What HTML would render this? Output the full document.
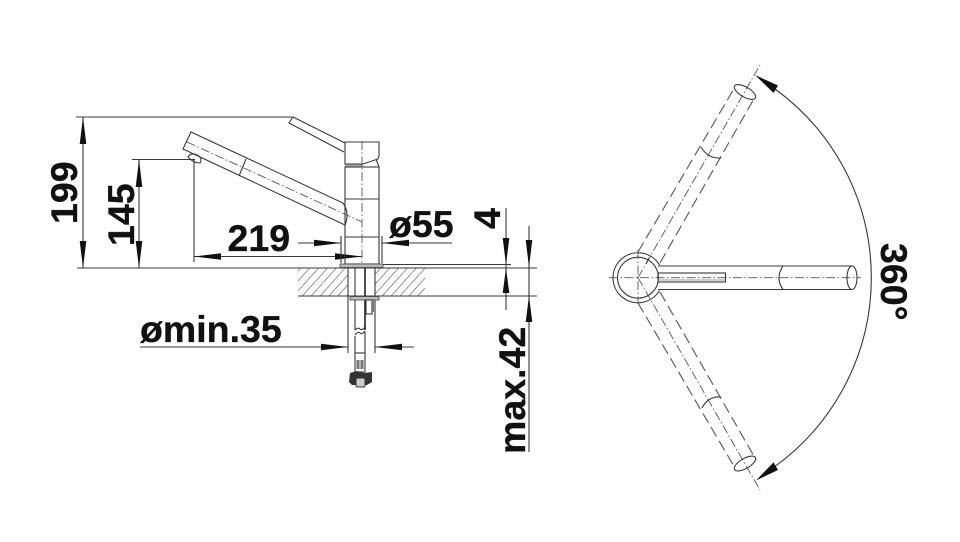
<!DOCTYPE html>
<html>
<head>
<meta charset="utf-8">
<style>
html,body{margin:0;padding:0;background:#fff;}
svg{display:block;}
text{font-family:"Liberation Sans",Arial,sans-serif;font-weight:bold;font-size:37.5px;fill:#111;stroke:#111;stroke-width:.35px;}
.l{stroke:#383838;stroke-width:1.1;fill:none;}
.d{stroke:#333;stroke-width:1.2;fill:none;}
.c{stroke:#555;stroke-width:.9;fill:none;stroke-dasharray:9 2.5 1.5 2.5;}
.h{stroke:#555;stroke-width:1.1;fill:none;stroke-dasharray:11 5;}
.a{fill:#111;stroke:none;}
</style>
</head>
<body>
<svg width="960" height="542" viewBox="0 0 960 542" xmlns="http://www.w3.org/2000/svg">
<defs>
<pattern id="hatch" width="6.6" height="9" patternUnits="userSpaceOnUse" patternTransform="rotate(42)">
<line x1="0" y1="0" x2="0" y2="9" stroke="#444" stroke-width="1.1"/>
</pattern>
</defs>
<rect width="960" height="542" fill="#fff"/>

<!-- Dimension lines, left -->
<line class="l" x1="76" y1="117" x2="292" y2="117"/>
<line class="l" x1="77" y1="268" x2="537" y2="268"/>
<line class="l" x1="298" y1="296" x2="537" y2="296"/>
<line class="l" x1="340" y1="264.5" x2="511" y2="264.5"/>
<line class="l" x1="83" y1="117" x2="83" y2="268"/>
<polygon class="a" points="83,117 86.3,144 79.7,144"/>
<polygon class="a" points="83,268 86.3,241 79.7,241"/>
<line class="l" x1="132" y1="159.5" x2="195" y2="159.5"/>
<line class="l" x1="139" y1="160" x2="139" y2="268"/>
<polygon class="a" points="139,160 142.3,187 135.7,187"/>
<polygon class="a" points="139,268 142.3,241 135.7,241"/>
<line class="l" x1="194" y1="160" x2="194" y2="262"/>
<line class="l" x1="194" y1="256.5" x2="362" y2="256.5"/>
<polygon class="a" points="194,256.5 221,253.2 221,259.8"/>
<polygon class="a" points="362,256.5 335,253.2 335,259.8"/>
<line class="l" x1="298" y1="243" x2="341" y2="243"/>
<polygon class="a" points="341,243 314,239.7 314,246.3"/>
<line class="l" x1="382" y1="243" x2="452" y2="243"/>
<polygon class="a" points="382,243 409,239.7 409,246.3"/>
<line class="l" x1="341" y1="236" x2="341" y2="263"/>
<line class="l" x1="382" y1="236" x2="382" y2="263"/>

<!-- Right dimensions -->
<line class="l" x1="506" y1="208" x2="506" y2="310"/>
<polygon class="a" points="506,265 509.3,238 502.7,238"/>
<polygon class="a" points="506,268 509.3,293 502.7,293"/>
<line class="l" x1="529" y1="226" x2="529" y2="452"/>
<polygon class="a" points="529,267 532.3,240 525.7,240"/>
<polygon class="a" points="529,296 532.3,322 525.7,322"/>

<!-- Counter hatch -->
<rect x="298" y="268" width="50" height="28" fill="url(#hatch)"/>
<rect x="375" y="268" width="50" height="28" fill="url(#hatch)"/>

<!-- Spout -->
<path class="l" d="M183,149 L191,132 L343,203 Q350,213 345,225 Z" fill="#fff"/>
<line class="l" x1="246" y1="159" x2="239" y2="176"/>
<line class="c" x1="187" y1="142" x2="362" y2="222"/>
<path class="l" d="M188,157 Q191,152 197,155 Q203,158 200,163 Q193,163 188,157 Z"/>

<!-- Lever -->
<path class="l" d="M345,143 L293,117 L289,123 L344,152"/>

<!-- Body -->
<path class="l" d="M345,142 H379 V156 L378,159 L363,164 H345 Z"/>
<path class="l" d="M346,164 V167 H379 L376,159"/>
<rect x="345" y="164.5" width="18" height="2" fill="#aaa"/>
<rect class="l" x="345" y="167" width="34" height="97"/>
<line class="l" x1="345" y1="199" x2="379" y2="199"/>
<line class="l" x1="345" y1="237" x2="379" y2="237"/>
<line class="c" x1="362" y1="141" x2="362" y2="264"/>
<rect x="340" y="264" width="43" height="3.5" fill="#bbb" stroke="#444" stroke-width=".8"/>

<!-- Under counter -->
<line class="l" x1="348" y1="268" x2="348" y2="353" stroke-width="1.3"/>
<line class="l" x1="375" y1="268" x2="375" y2="353" stroke-width="1.3"/>
<line class="l" x1="355" y1="268" x2="355" y2="330"/>
<line x1="365" y1="268" x2="365" y2="330" stroke="#222" stroke-width="1.6"/>
<rect x="350" y="296.5" width="29" height="3.5" fill="#bbb" stroke="#444" stroke-width=".8"/>
<rect class="l" x="366" y="300" width="6" height="14"/>
<rect x="372" y="300" width="2" height="12" fill="#777"/>
<path class="l" d="M355,336 V353 M365,332 V353 M355,335 Q358,331 360,333 Q362,335 365,331 M355,330 Q358,327 360,329 Q362,331 365,327"/>
<line class="l" x1="140" y1="347" x2="348" y2="347"/>
<polygon class="a" points="348,347 321,343.7 321,350.3"/>
<line class="l" x1="375" y1="347" x2="414" y2="347"/>
<polygon class="a" points="375,347 402,343.7 402,350.3"/>
<rect class="l" x="355" y="353" width="10" height="19"/>
<rect x="356.5" y="360" width="7" height="9" fill="#777"/>
<line x1="360" y1="360" x2="360" y2="369" stroke="#eee"/>
<path d="M350,373 L357,371 L364,373 L372,372 L372,382 L367,385 L352,385 L349,382 Z" fill="#333"/>
<rect x="356" y="378" width="9" height="9" rx="1.5" fill="#ccc" stroke="#333"/>

<!-- Labels -->
<text x="227.5" y="251">219</text>
<text x="389" y="237">ø55</text>
<text x="140" y="342">ømin.35</text>
<text transform="translate(77,224) rotate(-90)">199</text>
<text transform="translate(134,246) rotate(-90)">145</text>
<text transform="translate(500,229) rotate(-90)">4</text>
<text transform="translate(525,454) rotate(-90)">max.42</text>
<text transform="translate(881,243) rotate(90)">360°</text>

<!-- Plan view hub -->
<circle class="l" cx="638" cy="277.7" r="20.5"/>
<path class="l" d="M659.5,265 A25,25 0 1 0 659.5,290.5"/>
<line class="c" x1="609" y1="277.7" x2="861" y2="277.7"/>
<line class="c" x1="638" y1="250" x2="638" y2="304"/>

<!-- Plan view main arm -->
<path class="l" d="M658,266 H852 M658,289.5 H852"/>
<path class="l" d="M783,266 Q775,278 783,289.5"/>
<ellipse class="l" cx="852" cy="277.7" rx="5" ry="11.8"/>
<rect class="l" x="658" y="273" width="67.5" height="9"/>
<line x1="658" y1="280" x2="725" y2="280" stroke="#999" stroke-width="1"/>

<!-- Upper arm (hidden) -->
<line class="h" x1="638" y1="252" x2="735" y2="87"/>
<line class="h" x1="660" y1="263" x2="755" y2="97"/>
<line class="c" x1="638" y1="277.7" x2="760" y2="65"/>
<line class="l" x1="649" y1="258" x2="646" y2="264"/>
<ellipse class="l" cx="745" cy="92" rx="12" ry="5" transform="rotate(30 745 92)"/>
<path class="l" d="M701,147 Q708,159 721,158"/>

<!-- Lower arm (hidden) -->
<line class="h" x1="638" y1="303" x2="735" y2="468"/>
<line class="h" x1="660" y1="292" x2="755" y2="458"/>
<line class="c" x1="638" y1="277.7" x2="760" y2="490"/>
<ellipse class="l" cx="745" cy="463.5" rx="12" ry="5" transform="rotate(-30 745 463.5)"/>
<path class="l" d="M702,408 Q708,396 721,397"/>

<!-- 360 arc -->
<path class="l" d="M775,89 A233,233 0 0 1 775,466.4"/>
<polygon class="a" points="755,75 778,85.5 773.5,93"/>
<polygon class="a" points="756,480.4 778,470 773.5,462.4"/>
</svg>
</body>
</html>
